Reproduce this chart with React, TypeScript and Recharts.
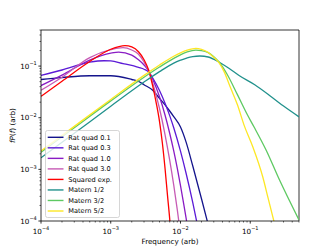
import React from 'react';
import { LineChart, Line, XAxis, YAxis, ReferenceLine } from 'recharts';

// frequency (arb) and f*P(f) (arb)
const ratQuad01F = [1e-4, 2e-4, 5e-4, 1e-3, 2e-3, 2.5e-3, 3e-3, 4e-3, 5e-3, 6e-3, 7e-3, 8e-3, 1e-2, 1.2e-2, 1.5e-2, 2e-2, 2.5e-2];
const ratQuad01P = [0.055, 0.06, 0.065, 0.065, 0.055, 0.0506, 0.0436, 0.034, 0.0237, 0.0177, 0.0135, 0.0105, 0.0066, 0.0034, 0.00116, 0.00027, 0.000084];

const ratQuad03F = [1e-4, 2e-4, 5e-4, 8e-4, 1e-3, 1.5e-3, 2e-3, 2.5e-3, 3e-3, 3.5e-3, 4e-3, 5e-3, 6e-3, 7e-3, 8e-3, 1e-2, 1.2e-2, 1.5e-2, 1.8e-2];
const ratQuad03P = [0.066, 0.084, 0.119, 0.127, 0.126, 0.112, 0.103, 0.094, 0.087, 0.0766, 0.0586, 0.0337, 0.0191, 0.011, 0.0064, 0.00225, 0.00085, 0.000227, 0.000069];

const ratQuad1F = [1e-4, 2e-4, 5e-4, 1e-3, 1.3e-3, 2e-3, 2.5e-3, 3e-3, 3.5e-3, 4e-3, 5e-3, 6e-3, 7e-3, 8e-3, 9e-3, 1e-2, 1.1e-2, 1.2e-2, 1.3e-2];
const ratQuad1P = [0.042, 0.067, 0.131, 0.178, 0.187, 0.163, 0.132, 0.105, 0.08, 0.0555, 0.0254, 0.0113, 0.005, 0.00227, 0.00104, 0.000486, 0.000232, 0.000116, 0.000059];

const ratQuad3F = [1e-4, 2e-4, 5e-4, 1e-3, 1.5e-3, 2e-3, 2.5e-3, 3e-3, 3.5e-3, 4e-3, 5e-3, 6e-3, 7e-3, 8e-3, 9e-3, 1e-2];
const ratQuad3P = [0.034, 0.061, 0.146, 0.208, 0.228, 0.205, 0.17, 0.12, 0.08, 0.0467, 0.0151, 0.00473, 0.00151, 0.000497, 0.000164, 0.000056];

const sqExpF = [1e-4, 2e-4, 5e-4, 1e-3, 1.6e-3, 2e-3, 2.5e-3, 3e-3, 3.5e-3, 4e-3, 4.5e-3, 5e-3, 5.5e-3, 6e-3, 6.5e-3, 7e-3, 7.5e-3];
const sqExpP = [0.026, 0.051, 0.123, 0.212, 0.25, 0.236, 0.19, 0.133, 0.083, 0.041, 0.019, 0.0085, 0.0032, 0.00105, 0.00032, 0.00011, 0.00003];

const matern12F = [1e-4, 3e-4, 1e-3, 3e-3, 5e-3, 8e-3, 1e-2, 1.25e-2, 1.5e-2, 1.9e-2, 2.5e-2, 3.56e-2, 5e-2, 7e-2, 0.116, 0.2, 0.3, 0.5];
const matern12P = [0.00168, 0.005, 0.0167, 0.049, 0.078, 0.114, 0.13, 0.145, 0.153, 0.157, 0.15, 0.12, 0.09, 0.065, 0.0435, 0.0255, 0.0168, 0.0104];

const matern32F = [1e-4, 3e-4, 1e-3, 3e-3, 5e-3, 8e-3, 1e-2, 1.25e-2, 1.66e-2, 2e-2, 2.5e-2, 3e-2, 3.56e-2, 4.7e-2, 6.55e-2, 9.1e-2, 0.1135, 0.1686, 0.263, 0.5];
const matern32P = [0.00214, 0.0064, 0.0212, 0.061, 0.096, 0.141, 0.165, 0.188, 0.204, 0.2, 0.182, 0.152, 0.12, 0.068, 0.028, 0.0114, 0.0066, 0.00237, 0.00062, 0.000105];

const matern52F = [1e-4, 3e-4, 1e-3, 3e-3, 5e-3, 8e-3, 1e-2, 1.25e-2, 1.66e-2, 2e-2, 2.5e-2, 3e-2, 3.56e-2, 4.2e-2, 5.24e-2, 6.55e-2, 8.15e-2, 0.1087, 0.151, 0.18, 0.216, 0.25];
const matern52P = [0.00227, 0.0068, 0.0226, 0.066, 0.105, 0.155, 0.18, 0.203, 0.22, 0.21, 0.183, 0.148, 0.117, 0.079, 0.0375, 0.0178, 0.0072, 0.00275, 0.00072, 0.00028, 0.000105, 0.000048];

const majorTicks = [1e-4, 1e-3, 1e-2, 1e-1];
const minorSteps = [2, 3, 4, 5, 6, 7, 8, 9];
const axisMax = 0.5;

const allTicks = majorTicks
  .flatMap((d) => [d, ...minorSteps.map((m) => m * d)])
  .filter((v) => v <= axisMax * 1.0001);

const series = [
  { name: 'Rat quad 0.1', color: '#14148c', f: ratQuad01F, p: ratQuad01P },
  { name: 'Rat quad 0.3', color: '#5b1ad6', f: ratQuad03F, p: ratQuad03P },
  { name: 'Rat quad 1.0', color: '#8a1cc4', f: ratQuad1F, p: ratQuad1P },
  { name: 'Rat quad 3.0', color: '#c75bb5', f: ratQuad3F, p: ratQuad3P },
  { name: 'Squared exp.', color: '#ff0000', f: sqExpF, p: sqExpP },
  { name: 'Matern 1/2', color: '#21918c', f: matern12F, p: matern12P },
  { name: 'Matern 3/2', color: '#5ec962', f: matern32F, p: matern32P },
  { name: 'Matern 5/2', color: '#fde725', f: matern52F, p: matern52P },
];

const PLOT_LEFT = 41;
const PLOT_BOTTOM = 221;
const FONT = 'DejaVu Sans';
const ROW = 10.53;

const isMajor = (v: number) => {
  const e = Math.log10(v);
  return Math.abs(e - Math.round(e)) < 1e-6;
};

const expLabel = (v: number) => '\u2212' + Math.abs(Math.round(Math.log10(v)));

function XTick(props: any) {
  const { x, payload } = props;
  const major = isMajor(payload.value);
  return (
    <g>
      <line x1={x} x2={x} y1={PLOT_BOTTOM} y2={PLOT_BOTTOM + (major ? 2.6 : 1.5)} stroke="#000" strokeWidth={major ? 0.8 : 0.6} />
      {major && (
        <text x={x} y={233.5} textAnchor="middle" fontSize={7.2} fill="#000" fontFamily={FONT}>
          10<tspan dy={-3.2} fontSize={5}>{expLabel(payload.value)}</tspan>
        </text>
      )}
    </g>
  );
}

function YTick(props: any) {
  const { y, payload } = props;
  const major = isMajor(payload.value);
  return (
    <g>
      <line x1={PLOT_LEFT - (major ? 2.6 : 1.5)} x2={PLOT_LEFT} y1={y} y2={y} stroke="#000" strokeWidth={major ? 0.8 : 0.6} />
      {major && (
        <text x={36.8} y={y + 2.6} textAnchor="end" fontSize={7.2} fill="#000" fontFamily={FONT}>
          10<tspan dy={-3.2} fontSize={5}>{expLabel(payload.value)}</tspan>
        </text>
      )}
    </g>
  );
}

function YLabel() {
  return (
    <text x={14.5} y={125.5} transform="rotate(-90 14.5 125.5)" textAnchor="middle" fontSize={7.2} fill="#000" fontFamily={FONT}>
      <tspan fontStyle="italic">fP</tspan>(<tspan fontStyle="italic">f</tspan>) (arb)
    </text>
  );
}

export default function App() {
  return (
    <div style={{ position: 'absolute', left: 0, top: 0, width: 332, height: 249, background: '#fff', fontFamily: FONT }}>
      <LineChart width={332} height={249} margin={{ top: 30, right: 33, bottom: 0, left: 0 }}>
        <XAxis
          dataKey="f"
          type="number"
          scale="log"
          domain={[1e-4, axisMax]}
          allowDataOverflow
          ticks={allTicks}
          interval={0}
          tick={<XTick />}
          tickLine={false}
          axisLine={{ stroke: '#000', strokeWidth: 0.8 }}
          height={28}
          label={{ value: 'Frequency (arb)', position: 'insideBottom', offset: 5.5, fontSize: 7.2, fill: '#000', fontFamily: FONT }}
        />
        <YAxis
          type="number"
          scale="log"
          domain={[1e-4, axisMax]}
          allowDataOverflow
          ticks={allTicks}
          interval={0}
          tick={<YTick />}
          tickLine={false}
          axisLine={{ stroke: '#000', strokeWidth: 0.8 }}
          width={41}
          label={<YLabel />}
        />
        <ReferenceLine y={axisMax} stroke="#000" strokeWidth={0.8} ifOverflow="visible" />
        <ReferenceLine x={axisMax} stroke="#000" strokeWidth={0.8} ifOverflow="visible" />
        {series.map((s) => (
          <Line
            key={s.name}
            data={s.f.map((f, i) => ({ f, p: s.p[i] }))}
            dataKey="p"
            name={s.name}
            type="monotone"
            stroke={s.color}
            strokeWidth={1.3}
            dot={false}
            activeDot={false}
            isAnimationActive={false}
          />
        ))}
      </LineChart>
      <svg width={75} height={88} style={{ position: 'absolute', left: 45, top: 130 }}>
        <rect x={0.5} y={0.5} width={74} height={87} rx={2} ry={2} fill="#fff" fillOpacity={0.8} stroke="#cccccc" strokeWidth={0.8} />
        {series.map((s, i) => {
          const cy = 7.3 + i * ROW;
          return (
            <g key={s.name}>
              <line x1={2.7} x2={18.5} y1={cy} y2={cy} stroke={s.color} strokeWidth={1.4} />
              <text x={23.3} y={cy + 2.4} fontSize={6.6} fill="#000" fontFamily={FONT}>
                {s.name}
              </text>
            </g>
          );
        })}
      </svg>
    </div>
  );
}
